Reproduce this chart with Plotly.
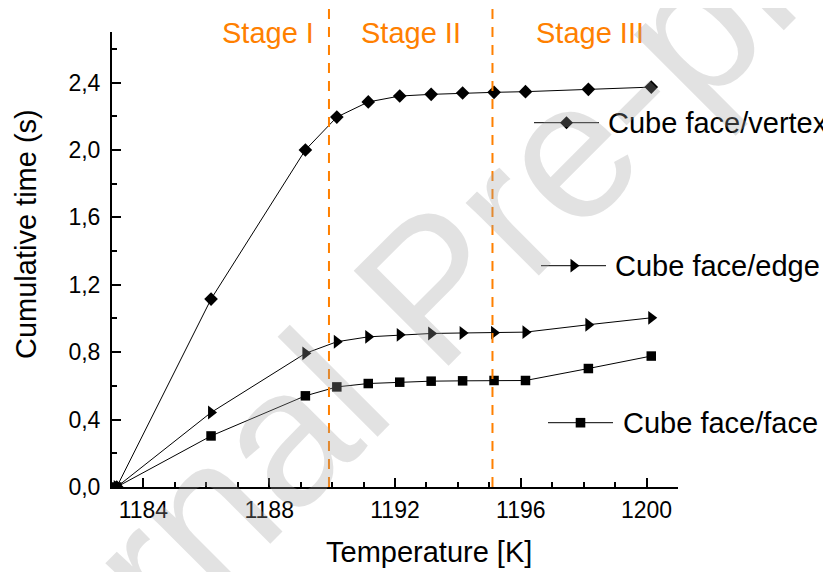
import plotly.graph_objects as go

# ---------------- data ----------------
TEMP_K = [1183.15, 1186.15, 1189.15, 1190.15, 1191.15, 1192.15,
          1193.15, 1194.15, 1195.15, 1196.15, 1198.15, 1200.15]
FACE_VERTEX = [0.0, 1.115, 2.00, 2.195, 2.285, 2.32, 2.33, 2.338, 2.342, 2.346, 2.36, 2.373]
FACE_EDGE = [0.0, 0.442, 0.793, 0.862, 0.891, 0.903, 0.911, 0.914, 0.916, 0.919, 0.963, 1.004]
FACE_FACE = [0.0, 0.303, 0.541, 0.594, 0.614, 0.622, 0.628, 0.630, 0.632, 0.632, 0.703, 0.777]
SERIES_NAMES = ["Cube face/vertex", "Cube face/edge", "Cube face/face"]
STAGE_BOUNDS = [1189.9, 1195.1]
STAGE_LABELS = ["Stage I", "Stage II", "Stage III"]
STAGE_LABEL_X = [1187.96, 1192.52, 1198.2]
X_TITLE = "Temperature [K]"
Y_TITLE = "Cumulative time (s)"
WATERMARK = "Journal Pre-proof"

# ---------------- layout geometry ----------------
# the page body adds an 8px margin, so the figure is shrunk/shifted by 8px
OFF = 8
W, H = 831 - OFF, 572 - OFF
PLOT_L, PLOT_R, PLOT_T, PLOT_B = 112 - OFF, 678 - OFF, 32 - OFF, 487 - OFF
ML, MR, MT, MB = PLOT_L, W - PLOT_R, PLOT_T, H - PLOT_B
PW, PH = PLOT_R - PLOT_L, PLOT_B - PLOT_T


def px_x(px):
    """screen pixel (reference) -> paper x"""
    return (px - OFF - PLOT_L) / PW


def px_y(py):
    """screen pixel (reference) -> paper y"""
    return (PLOT_B - (py - OFF)) / PH


FONT = "Liberation Sans, Arial, Helvetica, sans-serif"
ORANGE = "#FF8000"
SYMBOLS = ["diamond", "triangle-right", "square"]
SIZES = [10.5, 12, 9.5]
SERIES = [FACE_VERTEX, FACE_EDGE, FACE_FACE]

fig = go.Figure()
for name, ys, sym, sz in zip(SERIES_NAMES, SERIES, SYMBOLS, SIZES):
    fig.add_trace(go.Scatter(
        x=TEMP_K, y=ys, name=name, mode="lines+markers",
        line=dict(color="black", width=1),
        marker=dict(symbol=sym, size=sz, color="black"),
        showlegend=False,
    ))

shapes = []
annotations = []

# stage boundaries
for b in STAGE_BOUNDS:
    shapes.append(dict(type="line", xref="x", yref="paper", x0=b, x1=b,
                       y0=0, y1=px_y(OFF), line=dict(color=ORANGE, width=2, dash="10px,8px")))
for lab, lx in zip(STAGE_LABELS, STAGE_LABEL_X):
    annotations.append(dict(text=lab, xref="x", yref="paper", x=lx, y=px_y(33),
                            xanchor="center", yanchor="middle", showarrow=False,
                            font=dict(family=FONT, size=29, color=ORANGE)))

# custom legend keys
KEY_LINE = [(534, 599, 122.7), (541, 606, 265.7), (548, 613, 422.7)]
KEY_TEXT_X = [606, 613, 620.7]
KEY_PATHS = [
    "M0,6.5L6.5,0L0,-6.5L-6.5,0Z",
    "M-3,-6.9L6,0L-3,6.9Z",
    "M-4.8,-4.8L4.8,-4.8L4.8,4.8L-4.8,4.8Z",
]
for name, (x0, x1, ky), tx, path in zip(SERIES_NAMES, KEY_LINE, KEY_TEXT_X, KEY_PATHS):
    shapes.append(dict(type="line", xref="paper", yref="paper", x0=px_x(x0), x1=px_x(x1),
                       y0=px_y(ky), y1=px_y(ky), line=dict(color="black", width=1)))
    shapes.append(dict(type="path", xref="paper", yref="paper", xsizemode="pixel", ysizemode="pixel",
                       xanchor=px_x((x0 + x1) / 2), yanchor=px_y(ky), path=path,
                       fillcolor="black", line=dict(width=0)))
    annotations.append(dict(text=name, xref="paper", yref="paper", x=px_x(tx), y=px_y(ky),
                            xanchor="left", yanchor="middle", showarrow=False,
                            font=dict(family=FONT, size=29, color="black")))

# axis titles
annotations.append(dict(text=X_TITLE, xref="paper", yref="paper", x=px_x(428.5), y=px_y(552),
                        xanchor="center", yanchor="middle", showarrow=False,
                        font=dict(family=FONT, size=29, color="black")))
annotations.append(dict(text=Y_TITLE, xref="paper", yref="paper", x=px_x(26), y=px_y(234),
                        xanchor="center", yanchor="middle", showarrow=False, textangle=-90,
                        font=dict(family=FONT, size=29, color="black")))

# watermark
annotations.append(dict(text=WATERMARK, xref="paper", yref="paper", x=px_x(431), y=px_y(287),
                        xanchor="center", yanchor="middle", showarrow=False, textangle=-45,
                        font=dict(family=FONT, size=195, color="rgba(160,160,160,0.3)")))

axis_common = dict(
    showline=True, linecolor="black", linewidth=2, mirror=False,
    showgrid=False, zeroline=False,
    ticks="inside", ticklen=9, tickwidth=2, tickcolor="black",
    tickfont=dict(family=FONT, size=23, color="black"),
)

fig.update_layout(
    width=W, height=H,
    margin=dict(l=ML, r=MR, t=MT, b=MB),
    paper_bgcolor="white", plot_bgcolor="white",
    separators=",.",
    showlegend=False,
    shapes=shapes,
    annotations=annotations,
    xaxis=dict(range=[1183, 1201], tick0=1184, dtick=4,
               minor=dict(dtick=1, tick0=1184, ticks="inside", ticklen=5, tickwidth=2, tickcolor="black"),
               ticklabelstandoff=1, **axis_common),
    yaxis=dict(range=[0, 2.7], tick0=0, dtick=0.4, tickformat=".1f",
               minor=dict(dtick=0.2, tick0=0, ticks="inside", ticklen=5, tickwidth=2, tickcolor="black"),
               ticklabelstandoff=5, **axis_common),
)

fig.write_html("out.html")
